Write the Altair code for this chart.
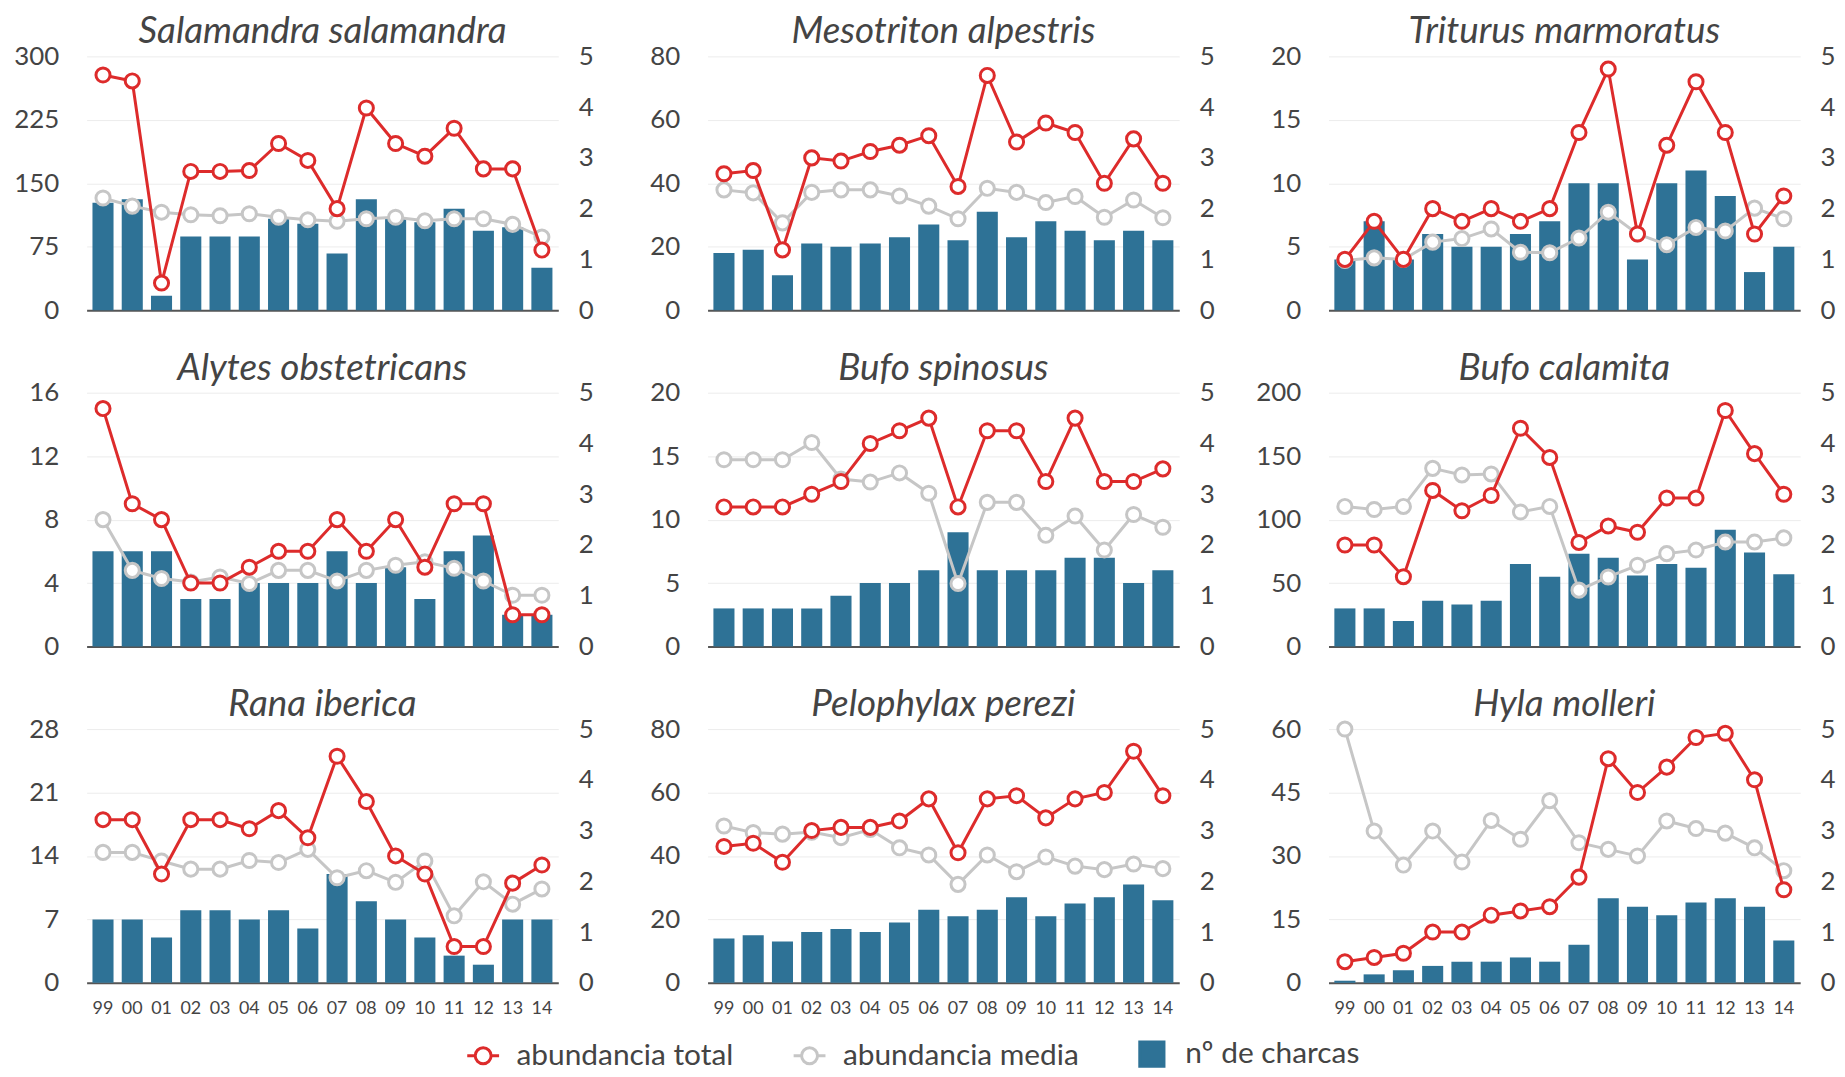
import altair as alt
import pandas as pd

years = ["99", "00", "01", "02", "03", "04", "05", "06", "07", "08", "09", "10", "11", "12", "13", "14"]

species = [
    "Salamandra salamandra", "Mesotriton alpestris", "Triturus marmoratus",
    "Alytes obstetricans", "Bufo spinosus", "Bufo calamita",
    "Rana iberica", "Pelophylax perezi", "Hyla molleri",
]
left_max = [300, 80, 20, 16, 20, 200, 28, 80, 60]
right_ticks = [0, 1, 2, 3, 4, 5]

# abundancia total (left axis)
total_salamandra = [278, 271, 32, 164, 164, 165, 197, 177, 120, 239, 197, 182, 215, 167, 167, 71]
total_mesotriton = [43, 44, 19, 48, 47, 50, 52, 55, 39, 74, 53, 59, 56, 40, 54, 40]
total_triturus = [4, 7, 4, 8, 7, 8, 7, 8, 14, 19, 6, 13, 18, 14, 6, 9]
total_alytes = [15, 9, 8, 4, 4, 5, 6, 6, 8, 6, 8, 5, 9, 9, 2, 2]
total_spinosus = [11, 11, 11, 12, 13, 16, 17, 18, 11, 17, 17, 13, 18, 13, 13, 14]
total_calamita = [80, 80, 55, 123, 107, 119, 172, 149, 82, 95, 90, 117, 117, 186, 152, 120]
total_rana = [18, 18, 12, 18, 18, 17, 19, 16, 25, 20, 14, 12, 4, 4, 11, 13]
total_pelophylax = [43, 44, 38, 48, 49, 49, 51, 58, 41, 58, 59, 52, 58, 60, 73, 59]
total_hyla = [5, 6, 7, 12, 12, 16, 17, 18, 25, 53, 45, 51, 58, 59, 48, 22]

# abundancia media (right axis)
media_salamandra = [2.21, 2.05, 1.93, 1.88, 1.86, 1.90, 1.83, 1.78, 1.75, 1.80, 1.83, 1.76, 1.80, 1.80, 1.69, 1.44]
media_mesotriton = [2.37, 2.31, 1.72, 2.32, 2.37, 2.37, 2.25, 2.05, 1.80, 2.40, 2.32, 2.12, 2.24, 1.83, 2.17, 1.82]
media_triturus = [0.98, 1.03, 1.00, 1.34, 1.41, 1.60, 1.14, 1.13, 1.42, 1.93, 1.50, 1.29, 1.63, 1.56, 2.01, 1.80]
media_alytes = [2.50, 1.50, 1.34, 1.27, 1.37, 1.24, 1.50, 1.50, 1.29, 1.50, 1.60, 1.67, 1.54, 1.29, 1.01, 1.01]
media_spinosus = [3.68, 3.68, 3.68, 4.02, 3.30, 3.24, 3.42, 3.02, 1.24, 2.84, 2.84, 2.19, 2.57, 1.90, 2.60, 2.35]
media_calamita = [2.76, 2.70, 2.76, 3.51, 3.38, 3.40, 2.65, 2.76, 1.11, 1.37, 1.60, 1.83, 1.90, 2.06, 2.06, 2.14]
media_rana = [2.57, 2.57, 2.40, 2.24, 2.24, 2.41, 2.37, 2.63, 2.07, 2.21, 1.98, 2.40, 1.32, 1.99, 1.55, 1.85]
media_pelophylax = [3.09, 2.96, 2.93, 2.97, 2.86, 3.02, 2.66, 2.52, 1.94, 2.52, 2.19, 2.48, 2.30, 2.23, 2.34, 2.25]
media_hyla = [5.00, 2.99, 2.32, 2.99, 2.38, 3.20, 2.83, 3.59, 2.76, 2.63, 2.50, 3.19, 3.04, 2.95, 2.66, 2.21]

# nº de charcas (left axis)
charcas_salamandra = [127, 131, 17, 87, 87, 87, 108, 102, 67, 131, 108, 104, 120, 94, 98, 50]
charcas_mesotriton = [18, 19, 11, 21, 20, 21, 23, 27, 22, 31, 23, 28, 25, 22, 25, 22]
charcas_triturus = [4, 7, 4, 6, 5, 5, 6, 7, 10, 10, 4, 10, 11, 9, 3, 5]
charcas_alytes = [6, 6, 6, 3, 3, 4, 4, 4, 6, 4, 5, 3, 6, 7, 2, 2]
charcas_spinosus = [3, 3, 3, 3, 4, 5, 5, 6, 9, 6, 6, 6, 7, 7, 5, 6]
charcas_calamita = [30, 30, 20, 36, 33, 36, 65, 55, 73, 70, 56, 65, 62, 92, 74, 57]
charcas_rana = [7, 7, 5, 8, 8, 7, 8, 6, 12, 9, 7, 5, 3, 2, 7, 7]
charcas_pelophylax = [14, 15, 13, 16, 17, 16, 19, 23, 21, 23, 27, 21, 25, 27, 31, 26]
charcas_hyla = [0.5, 2, 3, 4, 5, 5, 6, 5, 9, 20, 18, 16, 19, 20, 18, 10]

totals = [total_salamandra, total_mesotriton, total_triturus, total_alytes, total_spinosus,
          total_calamita, total_rana, total_pelophylax, total_hyla]
medias = [media_salamandra, media_mesotriton, media_triturus, media_alytes, media_spinosus,
          media_calamita, media_rana, media_pelophylax, media_hyla]
charcas = [charcas_salamandra, charcas_mesotriton, charcas_triturus, charcas_alytes, charcas_spinosus,
           charcas_calamita, charcas_rana, charcas_pelophylax, charcas_hyla]

T = "abundancia total"
M = "abundancia media"
C = "nº de charcas"
series = [T, M, C]

RED = "#dd2b2b"
GRAY = "#c6c6c6"
BLUE = "#2e7296"
TXT = "#444444"
FONT = "Lato"

# legend glyphs: circle crossed by a short line, and a square
LINE_CIRCLE = "M-1,0L-0.5,0M0.5,0L1,0M-0.5,0A0.5,0.5,0,1,1,0.5,0A0.5,0.5,0,1,1,-0.5,0Z"
SQUARE = "M-0.76,-0.76L0.76,-0.76L0.76,0.76L-0.76,0.76Z"

fill_scale = alt.Scale(domain=series, range=["white", "white", BLUE])
stroke_scale = alt.Scale(domain=series, range=[RED, GRAY, BLUE])
shape_scale = alt.Scale(domain=series, range=[LINE_CIRCLE, LINE_CIRCLE, SQUARE])

W, H = 474, 255


def panel(i, show_x):
    df = pd.DataFrame({"año": years, "charcas": charcas[i], "total": totals[i], "media": medias[i]})
    base = alt.Chart(df)
    lm = left_max[i]
    if show_x:
        xaxis = alt.Axis(title=None, labelFontSize=18, labelColor=TXT, labelFont=FONT, labelPadding=17,
                         ticks=False, domainColor="#555555", domainWidth=2, labelAngle=0, grid=False)
    else:
        xaxis = alt.Axis(title=None, labels=False, ticks=False, domainColor="#555555", domainWidth=2,
                         grid=False)
    xenc = alt.X("año:N", sort=years, scale=alt.Scale(paddingInner=0.28, paddingOuter=0.2), axis=xaxis)
    ly = alt.Scale(domain=[0, lm], nice=False, zero=True)
    ry = alt.Scale(domain=[0, 5], nice=False, zero=True)
    laxis = alt.Axis(orient="left", values=[0, lm / 4, lm / 2, 3 * lm / 4, lm], format="d", title=None,
                     grid=True, gridColor="#ececec", gridWidth=1, domain=False, ticks=False,
                     labelFontSize=26, labelColor=TXT, labelFont=FONT, labelPadding=28,
                     minExtent=78, maxExtent=78)
    raxis = alt.Axis(orient="right", values=right_ticks, title=None, grid=False, domain=False, ticks=False,
                     labelFontSize=26, labelColor=TXT, labelFont=FONT, labelPadding=20,
                     minExtent=36, maxExtent=36)

    bars = base.transform_calculate(serie=f"'{C}'").mark_bar(strokeWidth=0).encode(
        x=xenc,
        y=alt.Y("charcas:Q", scale=ly, axis=laxis),
        fill=alt.Fill("serie:N", scale=fill_scale, title=None),
    )
    gray_line = base.transform_calculate(serie=f"'{M}'").mark_line(strokeWidth=3).encode(
        x=xenc,
        y=alt.Y("media:Q", scale=ry, axis=raxis),
        stroke=alt.Stroke("serie:N", scale=stroke_scale, title=None),
    )
    gray_pts = base.transform_calculate(serie=f"'{M}'").mark_point(filled=True, size=200, strokeWidth=3, opacity=1).encode(
        x=xenc,
        y=alt.Y("media:Q", scale=ry, axis=None),
        fill=alt.Fill("serie:N", scale=fill_scale, title=None),
        stroke=alt.Stroke("serie:N", scale=stroke_scale, title=None),
    )
    red_line = base.transform_calculate(serie=f"'{T}'").mark_line(strokeWidth=3).encode(
        x=xenc,
        y=alt.Y("total:Q", scale=ly, axis=None),
        stroke=alt.Stroke("serie:N", scale=stroke_scale, title=None),
    )
    red_pts = base.transform_calculate(serie=f"'{T}'").mark_point(filled=True, size=200, strokeWidth=3, opacity=1).encode(
        x=xenc,
        y=alt.Y("total:Q", scale=ly, axis=None),
        fill=alt.Fill("serie:N", scale=fill_scale, title=None),
        stroke=alt.Stroke("serie:N", scale=stroke_scale, title=None),
    )
    # empty layer that only feeds the legend glyph shapes
    legend_glyphs = base.transform_calculate(serie=f"'{T}'").transform_filter("false").mark_point(
        filled=True, strokeWidth=3).encode(
        x=xenc,
        y=alt.Y("total:Q", scale=ly, axis=None),
        fill=alt.Fill("serie:N", scale=fill_scale, title=None),
        stroke=alt.Stroke("serie:N", scale=stroke_scale, title=None),
        shape=alt.Shape("serie:N", scale=shape_scale, title=None),
    )
    return alt.layer(bars, gray_line, gray_pts, red_line, red_pts, legend_glyphs).resolve_scale(
        y="independent").properties(
        width=W, height=H,
        title=alt.TitleParams(species[i], font=FONT, fontSize=37, fontStyle="italic", fontWeight="normal",
                              color=TXT, offset=-37, frame="group", baseline="alphabetic", anchor="middle"),
    )


rows = []
for r in range(3):
    rows.append(alt.hconcat(*[panel(3 * r + c, r == 2) for c in range(3)], spacing=34))

chart = alt.vconcat(*rows, spacing=25).properties(
    padding={"left": 0, "top": 2, "right": 0, "bottom": 0}
).configure_view(stroke="transparent").configure_legend(
    orient="none", legendX=381, legendY=985, direction="horizontal",
    labelFontSize=30, labelFont=FONT, labelColor=TXT, symbolSize=1024, symbolStrokeWidth=3,
    columnPadding=54, labelOffset=16, padding=0, labelLimit=400,
)

chart.save("out.html", embed_options={"renderer": "svg", "actions": False})
